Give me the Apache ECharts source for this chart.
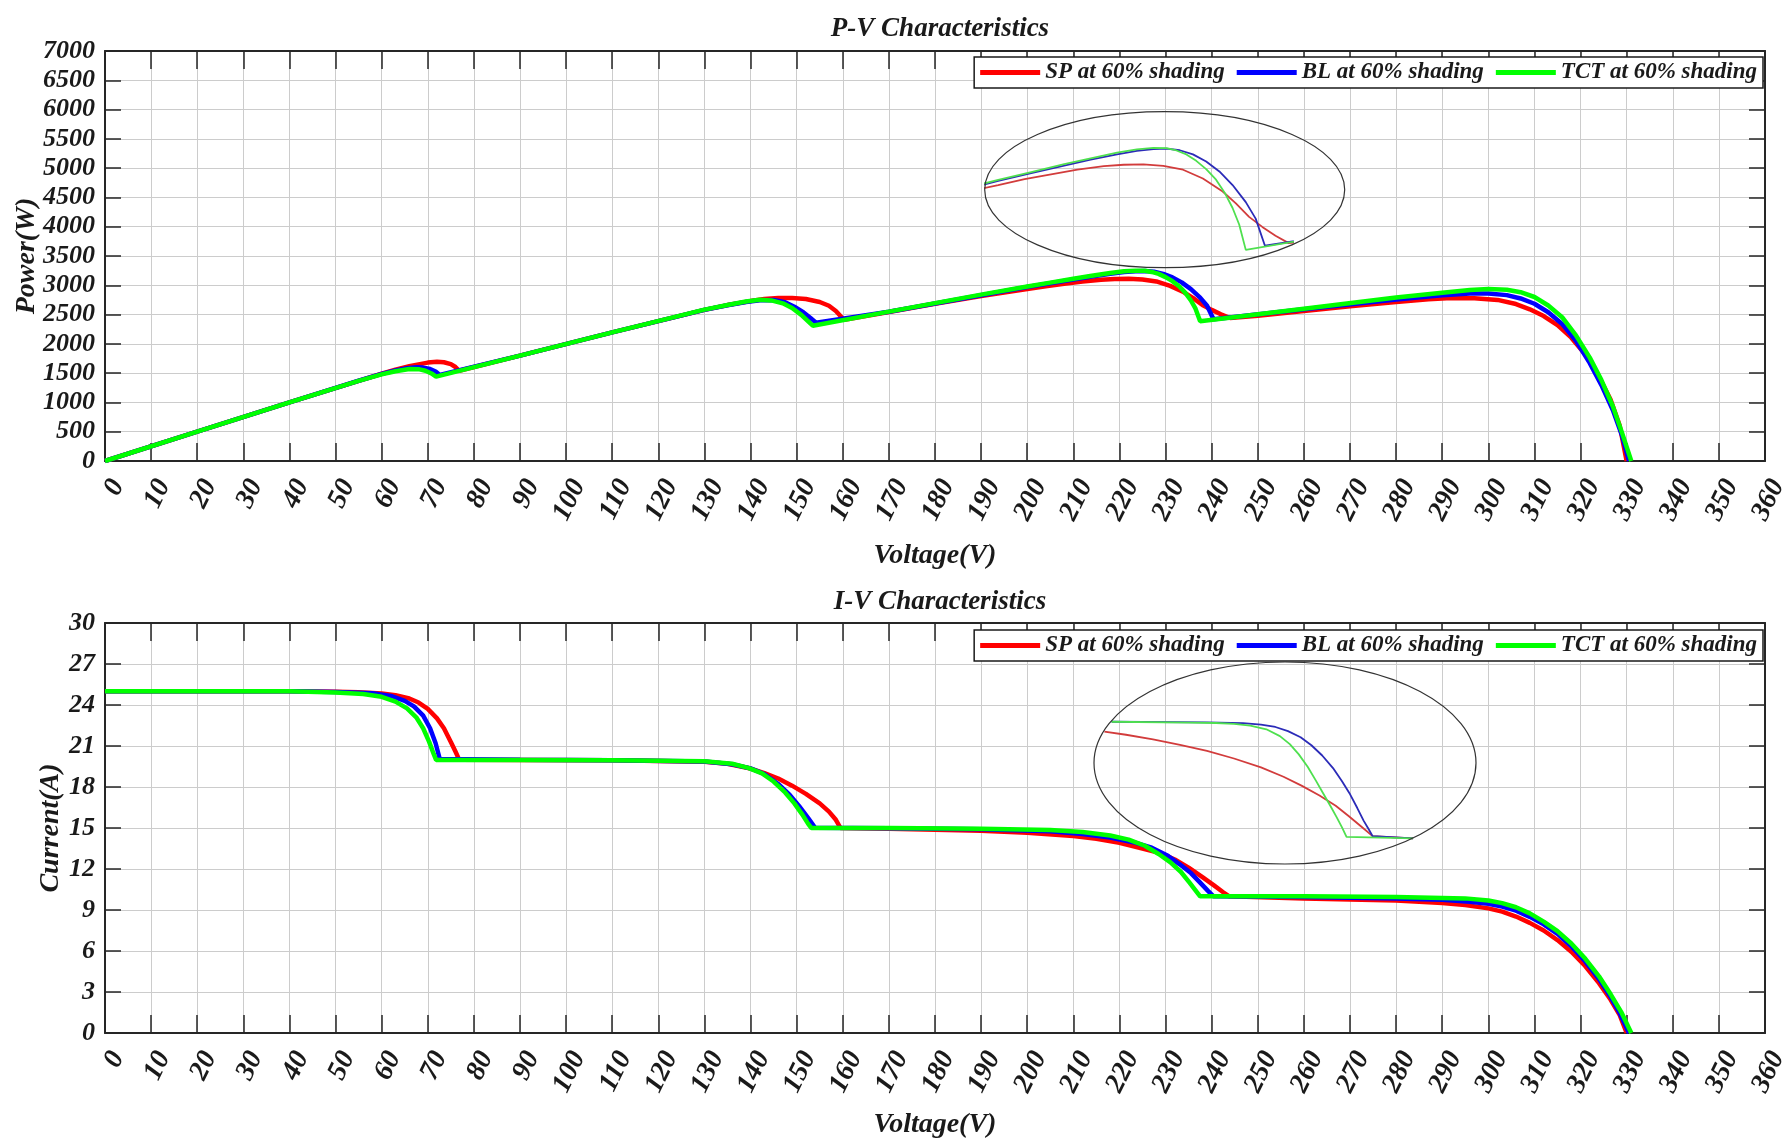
<!DOCTYPE html>
<html>
<head>
<meta charset="utf-8">
<script src="https://cdn.jsdelivr.net/npm/echarts@6/dist/echarts.min.js"></script>
<style>
html, body { margin: 0; padding: 0; background: #fff; }
#chart { width: 1786px; height: 1145px; }
</style>
</head>
<body>
<div id="chart"></div>
<script>
// series names
var seriesNames = ['SP at 60% shading', 'BL at 60% shading', 'TCT at 60% shading']

// P-V curves: [voltage (V), power (W)]
var spPV = [[0, 0], [20, 500], [40, 1000], [55, 1368], [60, 1490], [63, 1560], [66, 1618], [68, 1650], [70, 1680], [72, 1693], [73.5, 1686], [75, 1655], [76, 1605], [76.8, 1540],
  [90, 1800], [110, 2195], [130, 2580], [135, 2662], [140, 2730], [143, 2765], [146, 2782], [149, 2783], [152, 2765], [155, 2715], [157, 2650], [158.5, 2560], [159.5, 2475], [160.3, 2410],
  [170, 2545], [180, 2685], [190, 2815], [200, 2935], [204, 2985], [208, 3025], [212, 3065], [216, 3095], [219, 3107], [222, 3110], [225, 3098], [228, 3065], [231, 2990], [234, 2880], [236, 2780], [238, 2665], [240, 2580], [242, 2505], [244, 2442],
  [250, 2478], [260, 2560], [270, 2640], [280, 2715], [287, 2760], [292, 2782], [297, 2780], [302, 2750], [306, 2680], [309, 2590], [312, 2475], [315, 2320], [318, 2105], [321, 1820], [324, 1440], [326.5, 1050], [328.5, 600], [330, 0]]
var blPV = [[0, 0], [20, 500], [40, 1000], [55, 1370], [60, 1488], [63, 1545], [65.5, 1585], [67.5, 1602], [69, 1595], [70.5, 1570], [71.7, 1528], [72.6, 1470],
  [90, 1800], [110, 2195], [130, 2580], [135, 2658], [139, 2715], [142, 2745], [145, 2748], [147.5, 2710], [149.5, 2635], [151.5, 2535], [153, 2440], [154.2, 2360],
  [170, 2547], [190, 2830], [200, 2970], [205, 3035], [210, 3100], [214, 3150], [218, 3195], [221, 3225], [223.5, 3240], [225.5, 3243], [227.5, 3230], [229.5, 3195], [231.5, 3135], [233.5, 3050], [235.5, 2935], [237.5, 2790], [239, 2650], [240.4, 2420],
  [260, 2590], [280, 2758], [290, 2830], [296, 2860], [300, 2860], [304, 2832], [307, 2775], [310, 2685], [313, 2540], [316, 2340], [319, 2050], [322, 1670], [324.5, 1300], [327, 870], [329, 430], [330.5, 0]]
var tctPV = [[0, 0], [20, 500], [40, 1000], [55, 1368], [60, 1478], [63, 1532], [66, 1572], [68, 1568], [69.5, 1542], [70.8, 1495], [71.8, 1440],
  [90, 1800], [110, 2195], [130, 2585], [135, 2662], [139, 2722], [142, 2752], [144.5, 2742], [147, 2692], [149, 2612], [151, 2495], [152.5, 2385], [153.5, 2310],
  [170, 2550], [190, 2840], [200, 2978], [205, 3045], [210, 3112], [214, 3162], [218, 3210], [221, 3238], [223.5, 3250], [225.5, 3248], [227, 3228], [228.5, 3195], [230, 3140], [231.5, 3070], [233, 2980], [234.3, 2870], [235.5, 2740], [236.5, 2600], [237.5, 2385],
  [260, 2600], [280, 2790], [290, 2872], [296, 2918], [300, 2937], [304, 2925], [307, 2882], [310, 2800], [313, 2655], [316, 2455], [319, 2145], [322, 1765], [324.5, 1385], [327, 935], [329, 480], [331, 0]]

// I-V curves: [voltage (V), current (A)]
var spIV = [[0, 25], [40, 25], [50, 24.97], [55, 24.93], [60, 24.85], [63, 24.72], [66, 24.48], [68, 24.18], [70, 23.72], [72, 23.02], [73.5, 22.3], [75, 21.3], [76, 20.6], [76.8, 20.0],
  [90, 19.98], [110, 19.95], [130, 19.85], [135, 19.7], [140, 19.35], [143, 19.02], [146, 18.62], [149, 18.1], [152, 17.5], [155, 16.8], [157, 16.2], [158.5, 15.6], [159.5, 15.0],
  [170, 14.95], [190, 14.8], [200, 14.65], [210, 14.42], [215, 14.22], [220, 13.92], [225, 13.5], [229, 13.15], [232, 12.7], [235, 12.1], [238, 11.4], [240.5, 10.8], [242.5, 10.3], [243.8, 10.0],
  [260, 9.85], [280, 9.7], [290, 9.52], [295, 9.36], [300, 9.12], [303, 8.88], [306, 8.52], [309, 8.06], [312, 7.5], [315, 6.8], [318, 5.95], [321, 4.9], [324, 3.65], [326.5, 2.45], [328.5, 1.3], [330, 0]]
var blIV = [[0, 25], [40, 25], [50, 24.96], [58, 24.86], [62, 24.66], [65, 24.3], [67, 23.9], [69, 23.22], [70.5, 22.3], [71.7, 21.2], [72.6, 20.05],
  [90, 19.99], [110, 19.96], [130, 19.87], [136, 19.66], [140, 19.36], [143, 18.95], [146, 18.22], [148.5, 17.42], [150.5, 16.62], [152.5, 15.72], [154, 15.02],
  [170, 14.98], [190, 14.9], [205, 14.76], [212, 14.56], [218, 14.3], [223, 13.96], [227, 13.56], [230.5, 12.96], [233, 12.36], [235.5, 11.7], [237.5, 11.0], [239.2, 10.4], [240.4, 10.0],
  [260, 9.95], [280, 9.85], [290, 9.75], [296, 9.6], [300, 9.45], [303, 9.25], [306, 8.95], [309, 8.5], [312, 7.95], [315, 7.25], [318, 6.35], [321, 5.25], [324, 3.95], [326.5, 2.65], [328.5, 1.45], [330.5, 0]]
var tctIV = [[0, 25], [40, 25], [50, 24.92], [56, 24.8], [60, 24.6], [63, 24.25], [65.5, 23.75], [67.5, 23.1], [69, 22.3], [70.3, 21.3], [71.3, 20.4], [71.8, 19.98],
  [90, 19.98], [110, 19.96], [130, 19.88], [136, 19.7], [139.5, 19.4], [142.5, 19.0], [145, 18.4], [147.5, 17.6], [149.5, 16.8], [151.2, 16.0], [152.5, 15.3], [153.2, 15.0],
  [170, 15.0], [190, 14.95], [205, 14.85], [212, 14.7], [218, 14.45], [222, 14.15], [225.5, 13.7], [228.5, 13.1], [231, 12.5], [233.3, 11.8], [235.2, 11.0], [236.7, 10.35], [237.5, 10.0],
  [260, 10.0], [280, 9.95], [295, 9.85], [300, 9.7], [303, 9.5], [306, 9.2], [309, 8.75], [312, 8.15], [315, 7.45], [318, 6.55], [321, 5.45], [324, 4.15], [326.5, 2.85], [328.8, 1.55], [331, 0]]

// magnified I-V knee shown in the lower ellipse
var spIVZoom = [[210.6, 14.6], [213, 14.46], [216, 14.26], [219, 14.02], [222, 13.75], [225, 13.42], [228, 13.03], [230.5, 12.62], [232.5, 12.23], [234.5, 11.8], [236.3, 11.35], [237.8, 10.88], [239.2, 10.42], [240.4, 10.02], [244.9, 9.92]]
var blIVZoom = [[211.4, 15.03], [222, 15.0], [226, 14.97], [228, 14.9], [229.6, 14.8], [231, 14.62], [232.4, 14.35], [233.6, 14.0], [234.8, 13.55], [236, 13.0], [237, 12.42], [237.9, 11.85], [238.7, 11.25], [239.4, 10.7], [240, 10.3], [240.4, 10.02], [244.9, 9.92]]
var tctIVZoom = [[211.4, 15.03], [220, 14.99], [223, 14.975], [225, 14.94], [226.8, 14.86], [228.6, 14.7], [230.1, 14.4], [231.2, 14.05], [232.2, 13.6], [233.2, 13.05], [234.1, 12.45], [234.9, 11.9], [235.7, 11.35], [236.4, 10.85], [237, 10.4], [237.5, 9.99], [244.9, 9.92]]

var FONT = 'Liberation Serif'
var INK = '#1a1a1a'

function txt (size) {
  return { fontFamily: FONT, fontStyle: 'italic', fontWeight: 'bold', fontSize: size, color: INK }
}

function plain (v) {
  return String(v)
}

function bottomAxis (gridIndex, nameGap) {
  return {
    gridIndex: gridIndex,
    type: 'value',
    min: 0,
    max: 360,
    interval: 10,
    position: 'bottom',
    name: 'Voltage(V)',
    nameLocation: 'middle',
    nameGap: nameGap,
    nameMoveOverlap: false,
    nameTextStyle: txt(28),
    axisLine: { show: true, onZero: false, lineStyle: { color: '#262626', width: 2 } },
    axisTick: { show: true, inside: true, length: 18, lineStyle: { color: '#262626', width: 1.5 } },
    axisLabel: Object.assign(txt(28), { rotate: 64, margin: 14, verticalAlign: 'top', interval: 0, showMinLabel: true, showMaxLabel: true, formatter: plain }),
    splitLine: { show: true, lineStyle: { color: '#cccccc', width: 1 } }
  }
}

function topAxis (gridIndex) {
  return {
    gridIndex: gridIndex,
    type: 'value',
    min: 0,
    max: 360,
    interval: 10,
    position: 'top',
    axisLine: { show: true, onZero: false, lineStyle: { color: '#262626', width: 2 } },
    axisTick: { show: true, inside: true, length: 18, lineStyle: { color: '#262626', width: 1.5 } },
    axisLabel: { show: false },
    splitLine: { show: false }
  }
}

function leftAxis (gridIndex, max, interval, name, nameGap) {
  return {
    gridIndex: gridIndex,
    type: 'value',
    min: 0,
    max: max,
    interval: interval,
    position: 'left',
    name: name,
    nameLocation: 'middle',
    nameRotate: 90,
    nameGap: nameGap,
    nameMoveOverlap: false,
    nameTextStyle: txt(28),
    axisLine: { show: true, onZero: false, lineStyle: { color: '#262626', width: 2 } },
    axisTick: { show: true, inside: true, length: 16, lineStyle: { color: '#262626', width: 1.5 } },
    axisLabel: Object.assign(txt(26), { margin: 10, showMinLabel: true, showMaxLabel: true, formatter: plain }),
    splitLine: { show: true, lineStyle: { color: '#cccccc', width: 1 } }
  }
}

function rightAxis (gridIndex, max, interval) {
  return {
    gridIndex: gridIndex,
    type: 'value',
    min: 0,
    max: max,
    interval: interval,
    position: 'right',
    axisLine: { show: true, onZero: false, lineStyle: { color: '#262626', width: 2 } },
    axisTick: { show: true, inside: true, length: 16, lineStyle: { color: '#262626', width: 1.5 } },
    axisLabel: { show: false },
    splitLine: { show: false }
  }
}

function hiddenAxis (gridIndex, min, max) {
  return { gridIndex: gridIndex, type: 'value', min: min, max: max, show: false, splitLine: { show: false } }
}

function mainLine (name, data, axisIndex, color) {
  return {
    name: name,
    type: 'line',
    xAxisIndex: axisIndex,
    yAxisIndex: axisIndex,
    data: data,
    symbol: 'none',
    color: color,
    lineStyle: { color: color, width: 4.5 },
    z: 3
  }
}

function zoomLine (data, axisIndex, color) {
  return {
    name: 'zoom',
    type: 'line',
    xAxisIndex: axisIndex,
    yAxisIndex: axisIndex,
    data: data,
    symbol: 'none',
    clip: true,
    lineStyle: { color: color, width: 1.8 },
    z: 4,
    silent: true
  }
}

function legendBox (top) {
  return {
    data: seriesNames,
    right: 23,
    top: top,
    orient: 'horizontal',
    icon: 'rect',
    itemWidth: 60,
    itemHeight: 5,
    itemGap: 12,
    padding: [4, 6, 4, 6],
    backgroundColor: '#fff',
    borderColor: INK,
    borderWidth: 1.5,
    borderRadius: 0,
    textStyle: txt(23)
  }
}

var chart = echarts.init(document.getElementById('chart'))

var option = {
  animation: false,
  backgroundColor: '#fff',
  title: [
    { text: 'P-V Characteristics', left: 935, top: 11, textAlign: 'center', textStyle: txt(27) },
    { text: 'I-V Characteristics', left: 935, top: 584, textAlign: 'center', textStyle: txt(27) }
  ],
  legend: [legendBox(57), legendBox(630)],
  grid: [
    { left: 105, top: 51, width: 1660, height: 410, containLabel: false, outerBoundsMode: 'none' },
    { left: 105, top: 623, width: 1660, height: 410, containLabel: false, outerBoundsMode: 'none' },
    { left: 985, top: 142, width: 307, height: 112, containLabel: false, outerBoundsMode: 'none' },
    { left: 1099, top: 711, width: 378, height: 137, containLabel: false, outerBoundsMode: 'none' }
  ],
  xAxis: [
    bottomAxis(0, 81), topAxis(0),
    bottomAxis(1, 78), topAxis(1),
    hiddenAxis(2, 198, 244.5),
    hiddenAxis(3, 210, 252)
  ],
  yAxis: [
    leftAxis(0, 7000, 500, 'Power(W)', 64), rightAxis(0, 7000, 500),
    leftAxis(1, 30, 3, 'Current(A)', 40), rightAxis(1, 30, 3),
    hiddenAxis(2, 2350, 3300),
    hiddenAxis(3, 9.5, 15.5)
  ],
  graphic: [
    { type: 'ellipse', shape: { cx: 1164.7, cy: 189.7, rx: 180, ry: 78 }, style: { fill: 'none', stroke: '#333333', lineWidth: 1.2 }, z: 100, silent: true },
    { type: 'ellipse', shape: { cx: 1285, cy: 763, rx: 191, ry: 101 }, style: { fill: 'none', stroke: '#333333', lineWidth: 1.2 }, z: 100, silent: true }
  ],
  series: [
    mainLine(seriesNames[0], spPV, 0, '#ff0000'),
    mainLine(seriesNames[1], blPV, 0, '#0000ff'),
    mainLine(seriesNames[2], tctPV, 0, '#00ff00'),
    mainLine(seriesNames[0], spIV, 2, '#ff0000'),
    mainLine(seriesNames[1], blIV, 2, '#0000ff'),
    mainLine(seriesNames[2], tctIV, 2, '#00ff00'),
    zoomLine(spPV, 4, '#d23c3c'),
    zoomLine(blPV, 4, '#2b2bb8'),
    zoomLine(tctPV, 4, '#4fe04f'),
    zoomLine(spIVZoom, 5, '#d23c3c'),
    zoomLine(blIVZoom, 5, '#2b2bb8'),
    zoomLine(tctIVZoom, 5, '#4fe04f')
  ]
}

chart.setOption(option)
</script>
</body>
</html>
